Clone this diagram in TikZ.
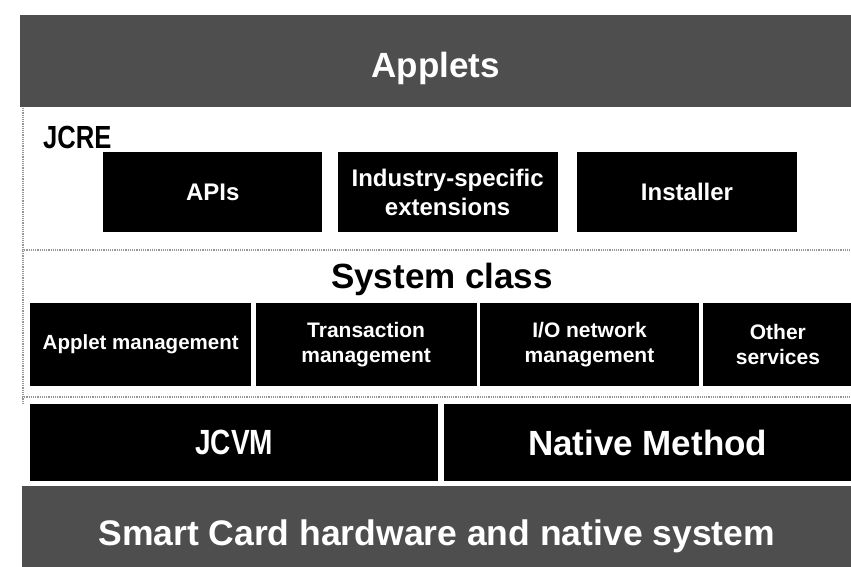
\documentclass[tikz,border=0pt]{standalone}
\usepackage{fontspec}
\setmainfont{Liberation Sans}
\newfontfamily\narrowsans[FakeStretch=0.8]{Liberation Sans Bold}
\usetikzlibrary{positioning}
\definecolor{bandgray}{RGB}{78,78,78}
\definecolor{dotgray}{RGB}{150,150,150}
\newcommand{\fsz}[2]{\fontsize{#1}{#2}\selectfont}

\begin{document}
\begin{tikzpicture}[x=1pt,y=-1pt,
  layer/.style={fill=black,text=white,inner sep=0pt,anchor=north west,align=center,font=\bfseries},
  band/.style={layer,fill=bandgray},
  sep/.style={dotgray,densely dotted,line width=1.2pt}]
  \useasboundingbox[fill=white] (0,0) rectangle (851,567);
  % top and bottom bands
  \node[band,minimum width=831,minimum height=92,font=\bfseries\fsz{35}{42},text height=32pt,text depth=0pt] (applets)
    at (20,15) {Applets};
  \node[band,minimum width=829,minimum height=81,font=\bfseries\fsz{35.5}{42},text height=37pt,text depth=0pt] (hardware)
    at (22,486) {Smart Card hardware and native system};
  % JCRE part
  \draw[sep] (23,108) -- (23,404);
  \node[anchor=base west,inner sep=0pt,font=\narrowsans\fsz{32}{38}] (jcre) at (43,148) {JCRE};
  \node[layer,minimum width=219,minimum height=80,font=\bfseries\fsz{24}{30}] (apis) at (103,152) {APIs};
  \node[layer,minimum width=220,minimum height=80,font=\bfseries\fsz{24}{29},right=15pt of apis] (industry)
    {Industry-specific\\extensions};
  \node[layer,minimum width=220,minimum height=80,font=\bfseries\fsz{24}{30},right=19pt of industry] (installer)
    {Installer};
  \draw[sep] (22,250) -- (851,250);
  \node[anchor=base,inner sep=0pt,font=\bfseries\fsz{35}{42}] (sysclass) at (442,288) {System class};
  % system class services
  \node[layer,minimum width=221,minimum height=83,font=\bfseries\fsz{20.5}{25}] (appletmgmt) at (30,303)
    {Applet management};
  \node[layer,minimum width=221,minimum height=83,font=\bfseries\fsz{21}{25},right=4pt of appletmgmt] (transmgmt)
    {Transaction\\management};
  \node[layer,minimum width=219,minimum height=83,font=\bfseries\fsz{21}{25},right=3pt of transmgmt] (iomgmt)
    {I/O network\\management};
  \node[layer,minimum width=149,minimum height=83,font=\bfseries\fsz{21}{25},right=4pt of iomgmt] (othersvc)
    {Other\\services};
  \draw[sep] (22,397) -- (851,397);
  % virtual machine
  \node[layer,minimum width=408,minimum height=77,font=\narrowsans\fsz{35}{42}] (jcvm) at (30,404) {JCVM};
  \node[layer,minimum width=408,minimum height=77,font=\bfseries\fsz{35}{42},right=5pt of jcvm] (native)
    {Native Method};
\end{tikzpicture}
\end{document}
